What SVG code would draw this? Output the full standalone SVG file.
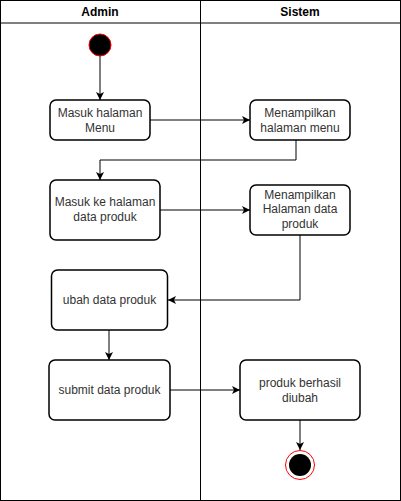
<svg xmlns="http://www.w3.org/2000/svg" width="401" height="501" viewBox="0 0 401 501">
<style>
.lane{fill:none;stroke:#000;stroke-width:1}
.box{fill:#fff;stroke:#000;stroke-width:1.5}
.t{font-family:"Liberation Sans",Arial,sans-serif;font-size:12px;fill:#333;text-anchor:middle}
.h{font-family:"Liberation Sans",Arial,sans-serif;font-size:12px;font-weight:bold;fill:#000;text-anchor:middle}
.c{fill:none;stroke:#000;stroke-width:1}
</style>
<defs>
<marker id="ar" markerWidth="10" markerHeight="10" refX="8" refY="5" orient="auto" markerUnits="userSpaceOnUse">
<path d="M0,1 L8,5 L0,9 L2,5 Z" fill="#000"/>
</marker>
</defs>
<rect x="0" y="0" width="401" height="501" fill="#fff"/>
<g id="lanes">
<rect class="lane" x="0.5" y="0.5" width="400" height="500"/>
<line class="lane" x1="0.5" y1="23" x2="400.5" y2="23"/>
<line class="lane" x1="200.5" y1="0.5" x2="200.5" y2="500.5"/>
<text class="h" x="100" y="16">Admin</text>
<text class="h" x="300" y="16">Sistem</text>
</g>
<g id="connectors">
<path class="c" d="M100,56 V100" marker-end="url(#ar)"/>
<path class="c" d="M150,120 H250" marker-end="url(#ar)"/>
<path class="c" d="M296,140 V160 H100 V180" marker-end="url(#ar)"/>
<path class="c" d="M160,210 H250" marker-end="url(#ar)"/>
<path class="c" d="M300,235 V300 H168" marker-end="url(#ar)"/>
<path class="c" d="M109,330 V360" marker-end="url(#ar)"/>
<path class="c" d="M170,390 H240" marker-end="url(#ar)"/>
<path class="c" d="M300,420 V450" marker-end="url(#ar)"/>
</g>
<g id="start">
<circle cx="100" cy="45" r="11" fill="#000" stroke="#ff0000" stroke-width="1"/>
</g>
<g id="n1">
<rect class="box" x="50" y="100" width="100" height="40" rx="6"/>
<text class="t" x="100" y="117">Masuk halaman</text>
<text class="t" x="100" y="132">Menu</text>
</g>
<g id="n2">
<rect class="box" x="250" y="100" width="100" height="40" rx="6"/>
<text class="t" x="300" y="117">Menampilkan</text>
<text class="t" x="300" y="132">halaman menu</text>
</g>
<g id="n3">
<rect class="box" x="50" y="180" width="110" height="60" rx="6"/>
<text class="t" x="105" y="206">Masuk ke halaman</text>
<text class="t" x="105" y="221">data produk</text>
</g>
<g id="n4">
<rect class="box" x="250" y="185" width="100" height="50" rx="6"/>
<text class="t" x="300" y="199">Menampilkan</text>
<text class="t" x="300" y="213">Halaman data</text>
<text class="t" x="300" y="228">produk</text>
</g>
<g id="n5">
<rect class="box" x="51.5" y="270" width="116" height="60" rx="6"/>
<text class="t" x="109.5" y="304">ubah data produk</text>
</g>
<g id="n6">
<rect class="box" x="49" y="360" width="121" height="60" rx="6"/>
<text class="t" x="109.5" y="394">submit data produk</text>
</g>
<g id="n7">
<rect class="box" x="240" y="360" width="120" height="60" rx="6"/>
<text class="t" x="300" y="387">produk berhasil</text>
<text class="t" x="300" y="402">diubah</text>
</g>
<g id="end">
<circle cx="300" cy="465" r="14.5" fill="#fff" stroke="#ff0000" stroke-width="1"/>
<circle cx="300" cy="465" r="11" fill="#000"/>
</g>
</svg>
